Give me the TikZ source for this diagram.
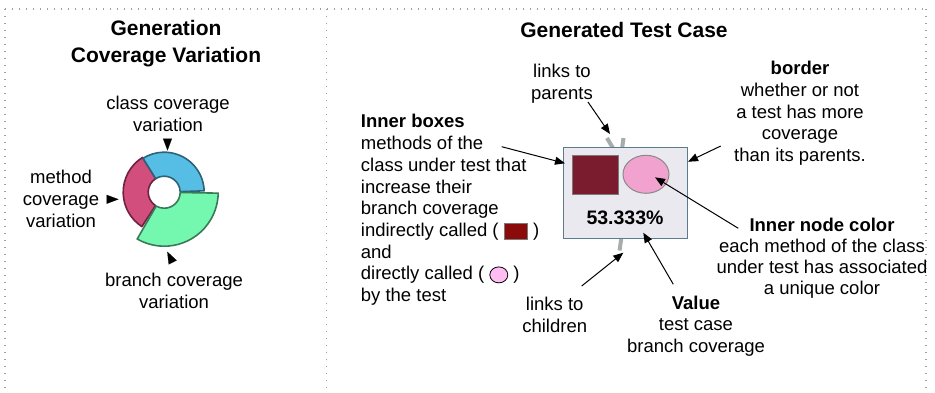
\documentclass[tikz,border=0pt]{standalone}
\usepackage{fontspec}
\setmainfont{Liberation Sans}
\usetikzlibrary{arrows.meta,shapes.geometric}
\definecolor{sepgray}{HTML}{A0A0A0}
\definecolor{linkgray}{HTML}{A7ADAD}
\definecolor{boxfill}{HTML}{E9E9EF}
\definecolor{boxdraw}{HTML}{5B7B90}
\definecolor{sqfill}{HTML}{7A1C2E}
\definecolor{sqdraw}{HTML}{7A7A7A}
\definecolor{ellfill}{HTML}{F2A2CF}
\definecolor{elldraw}{HTML}{8A8A8A}
\definecolor{inlred}{HTML}{8B0B0B}
\definecolor{inlpink}{HTML}{FFBDF4}
\definecolor{bluef}{HTML}{56BEE4}
\definecolor{blued}{HTML}{2D6378}
\definecolor{redf}{HTML}{D24F7D}
\definecolor{redd}{HTML}{6E2142}
\definecolor{greenf}{HTML}{74F7AF}
\definecolor{greend}{HTML}{3B7A58}
\newcommand\indsq{\raisebox{-2.5pt}{\setlength\fboxsep{0pt}\setlength\fboxrule{0.8pt}\fcolorbox{sqdraw}{inlred}{\rule{0pt}{15pt}\rule{22.5pt}{0pt}}}}
\newcommand\dirci{\tikz[x=1pt,y=1pt,baseline=-5pt]\draw[draw=black,fill=inlpink,line width=0.8pt] (0,0) ellipse[x radius=9pt,y radius=8pt];}
\begin{document}
\begin{tikzpicture}[x=1pt,y=-1pt,
  body/.style={font=\fontsize{18.5}{21.7}\selectfont, inner sep=0pt, align=center},
  ttl/.style={font=\fontsize{21}{27}\selectfont\bfseries, inner sep=0pt, align=center},
  sep/.style={draw=sepgray, line width=1.2pt, dash pattern=on 1.4pt off 5.6pt},
  arr/.style={draw=black, line width=1pt, -{Triangle[length=10pt,width=8pt]}},
  headonly/.style={draw=white, line width=0.1pt, -{Triangle[length=12pt,width=9pt,color=black]}},
  link/.style={draw=linkgray, line width=4pt},
  seg/.style={line width=1.6pt, line join=round}
]
\useasboundingbox (0,0) rectangle (935,392);
% panel separators
\coordinate (tl) at (5,9); \coordinate (tr) at (926,9);
\coordinate (bl) at (5,392); \coordinate (br) at (926,392);
\coordinate (tm) at (326.7,9); \coordinate (bm) at (326.7,392);
\draw[sep] (tl) -- (tr);
\draw[sep] (tl) -- (bl);
\draw[sep] (tm) -- (bm);
\draw[sep] (tr) -- (br);

% ---------- left panel ----------
\node[ttl] (lt) at (166,43.5) {Generation\\Coverage Variation};
\node[body] (lclass) at (168,114) {class coverage\\variation};
\node[body] (lmeth) at (61,199) {method\\coverage\\variation};
\node[body] (lbranch) at (174,291) {branch coverage\\variation};

\begin{scope}[shift={(164.2,192.2)}]
  \filldraw[seg, fill=redf, draw=redd] (122:16pt) -- (122:41pt) arc[start angle=122, end angle=237, radius=41pt] -- (237:16pt) arc[start angle=237, end angle=122, radius=16pt] -- cycle;
  \filldraw[seg, fill=bluef, draw=blued] (2:16pt) -- (2:40pt) arc[start angle=2, end angle=122, radius=40pt] -- (122:16pt) arc[start angle=122, end angle=2, radius=16pt] -- cycle;
  \filldraw[seg, fill=greenf, draw=greend] (-120:16pt) -- (-120:54pt) arc[start angle=-120, end angle=-1, radius=54pt] -- (-1:16pt) arc[start angle=-1, end angle=-120, radius=16pt] -- cycle;
\end{scope}

\coordinate (ca) at (167.5,134); \coordinate (cb) at (167.5,150.5);
\draw[headonly] (ca) -- (cb);
\coordinate (ma) at (102,199.3); \coordinate (mb) at (118.5,199.3);
\draw[headonly] (ma) -- (mb);
\coordinate (ba) at (175,267); \coordinate (bb) at (167.3,251.7);
\draw[headonly] (ba) -- (bb);

% ---------- right panel ----------
\node[ttl] (rt) at (624,30) {Generated Test Case};

% links
\coordinate (lp1a) at (607,138); \coordinate (lp1b) at (613.5,149);
\coordinate (lp2a) at (623.5,138); \coordinate (lp2b) at (622,149);
\coordinate (lca) at (621.5,237); \coordinate (lcb) at (619.5,250.5);
\draw[link] (lp1a) -- (lp1b);
\draw[link] (lp2a) -- (lp2b);
\draw[link] (lca) -- (lcb);

\node[draw=boxdraw, fill=boxfill, line width=1.5pt, minimum width=124pt, minimum height=90.6pt, inner sep=0pt] (box) at (625.3,193) {};
\node[draw=sqdraw, fill=sqfill, line width=1pt, minimum width=46.4pt, minimum height=39pt, inner sep=0pt] (sq) at (595.5,174.5) {};
\node[ellipse, draw=elldraw, fill=ellfill, line width=1pt, minimum width=46pt, minimum height=38pt, inner sep=0pt] (ell) at (646,174.3) {};
\node[font=\fontsize{19.5}{22}\selectfont\bfseries, inner sep=0pt] (val) at (625,217.7) {53.333\%};

\node[body] (parents) at (562,84) {links to\\parents};
\node[body] (border) at (800,113.3) {\textbf{border}\\whether or not\\a test has more\\coverage\\than its parents.};
\node[body, font=\fontsize{18.5}{21}\selectfont] (color) at (822,258.3) {\textbf{Inner node color}\\each method of the class\\under test has associated\\a unique color};
\node[body] (value) at (696,326) {\textbf{Value}\\test case\\branch coverage};
\node[body] (children) at (554.7,314.7) {links to\\children};
\node[body, align=left, anchor=west] (inner) at (360.7,210) {\textbf{Inner boxes}\\methods of the\\class under test that\\increase their\\branch coverage\\indirectly called ( \indsq{} )\\and\\directly called ( \dirci{} )\\by the test};

% arrows
\coordinate (a1s) at (588,102);   \coordinate (a1t) at (610,134);
\coordinate (a2s) at (501.7,146.7); \coordinate (a2t) at (565,163.3);
\coordinate (a3s) at (720.7,146); \coordinate (a3t) at (688,161.7);
\coordinate (a4s) at (738.3,228.3); \coordinate (a4t) at (655,177.3);
\coordinate (a5s) at (673.3,284.3); \coordinate (a5t) at (643.3,232.7);
\coordinate (a6s) at (581.7,286); \coordinate (a6t) at (623.3,252.7);
\draw[arr] (a1s) -- (a1t);
\draw[arr] (a2s) -- (a2t);
\draw[arr] (a3s) -- (a3t);
\draw[arr] (a4s) -- (a4t);
\draw[arr] (a5s) -- (a5t);
\draw[arr] (a6s) -- (a6t);
\end{tikzpicture}
\end{document}
